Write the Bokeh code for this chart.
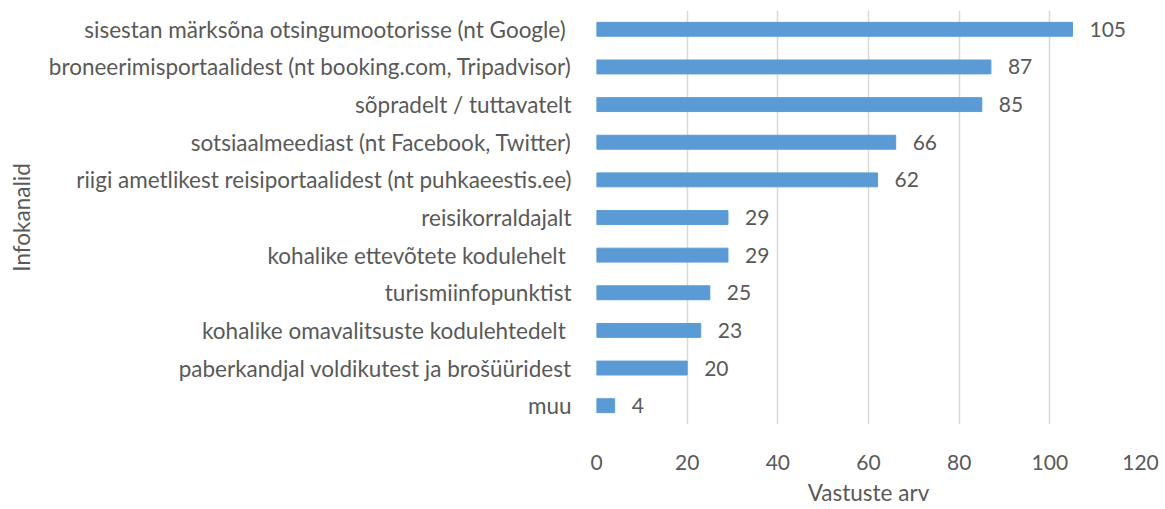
from bokeh.plotting import figure
from bokeh.models import ColumnDataSource, FactorRange, Range1d, LabelSet
from bokeh.core.properties import value
from bokeh.embed import file_html
from bokeh.resources import INLINE

categories = [
    "sisestan märksõna otsingumootorisse (nt Google) ",
    "broneerimisportaalidest (nt booking.com, Tripadvisor)",
    "sõpradelt / tuttavatelt",
    "sotsiaalmeediast (nt Facebook, Twitter)",
    "riigi ametlikest reisiportaalidest (nt puhkaeestis.ee)",
    "reisikorraldajalt",
    "kohalike ettevõtete kodulehelt ",
    "turismiinfopunktist",
    "kohalike omavalitsuste kodulehtedelt ",
    "paberkandjal voldikutest ja brošüüridest",
    "muu",
]
values = [105, 87, 85, 66, 62, 29, 29, 25, 23, 20, 4]
x_ticks = [0, 20, 40, 60, 80, 100, 120]

FONT = "Lato"
GREY = "#595959"
FS = "21px"
FS_CAT = "22.5px"

src = ColumnDataSource(dict(cat=categories, val=values, lbl=[str(v) for v in values]))

p = figure(
    width=1160, height=508,
    y_range=FactorRange(*list(reversed(categories)), range_padding=0),
    x_range=Range1d(0, 120),
    output_backend="svg", toolbar_location=None,
    min_border_left=596, min_border_right=20, min_border_top=10, min_border_bottom=80,
)
p.outline_line_color = None

p.hbar(y="cat", right="val", left=0, height=0.37, color="#5B9BD5", source=src)

labels = LabelSet(x="val", y="cat", text="lbl", source=src, x_offset=17, y_offset=0,
                  text_align="left", text_baseline="middle",
                  text_font=value(FONT), text_font_size=FS, text_color=GREY)
p.add_layout(labels)

p.xaxis.ticker = x_ticks
p.xaxis.axis_line_color = None
p.xaxis.major_tick_line_color = None
p.xaxis.minor_tick_line_color = None
p.xaxis.major_label_text_font = FONT
p.xaxis.major_label_text_font_size = FS
p.xaxis.major_label_text_color = GREY
p.xaxis.major_label_standoff = 24
p.xaxis.axis_label = "Vastuste arv"
p.xaxis.axis_label_text_font = FONT
p.xaxis.axis_label_text_font_size = FS_CAT
p.xaxis.axis_label_text_font_style = "normal"
p.xaxis.axis_label_text_color = GREY
p.xaxis.axis_label_standoff = 6

p.yaxis.axis_line_color = None
p.yaxis.major_tick_line_color = None
p.yaxis.minor_tick_line_color = None
p.yaxis.major_label_text_font = FONT
p.yaxis.major_label_text_font_size = FS_CAT
p.yaxis.major_label_text_color = GREY
p.yaxis.major_label_standoff = 19
p.yaxis.axis_label = "Infokanalid"
p.yaxis.axis_label_text_font = FONT
p.yaxis.axis_label_text_font_size = FS_CAT
p.yaxis.axis_label_text_font_style = "normal"
p.yaxis.axis_label_text_color = GREY
p.yaxis.axis_label_standoff = 11

p.ygrid.grid_line_color = None
p.xgrid.grid_line_color = "#D9D9D9"
p.xgrid.grid_line_width = 1.5

open("out.html", "w").write(file_html(p, INLINE))
